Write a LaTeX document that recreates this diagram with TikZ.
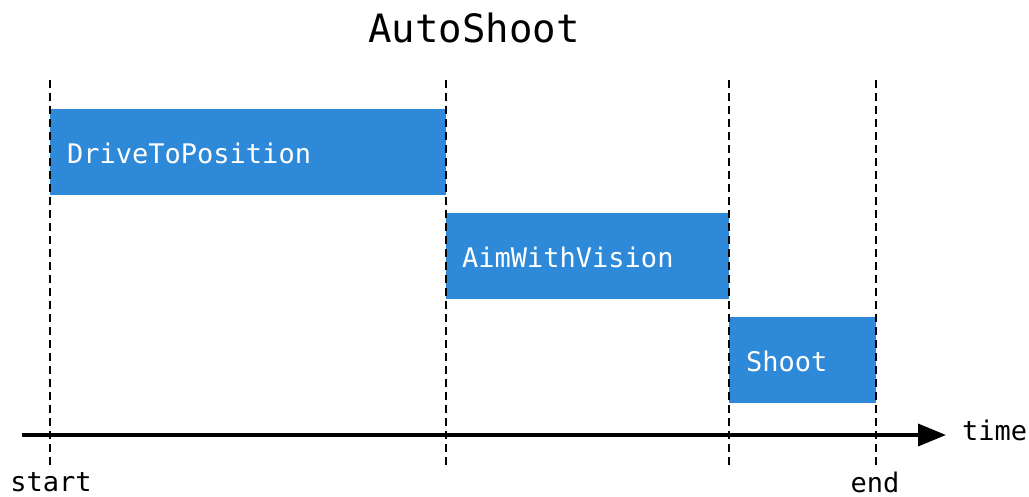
\documentclass[tikz,border=0pt]{standalone}
\usepackage{fontspec}
\setmainfont{DejaVu Sans Mono}
\usetikzlibrary{arrows.meta}
\definecolor{taskblue}{RGB}{46,137,217}
\begin{document}
\begin{tikzpicture}[x=1pt,y=-1pt,
  task/.style={fill=taskblue,draw=none,anchor=north west,minimum height=86pt,
    inner sep=0pt,text=white},
  marker/.style={dash pattern=on 8pt off 5pt,line width=1.8pt},
  lbl/.style={font=\fontsize{27}{31}\selectfont,inner sep=0pt}]
\useasboundingbox (0,0) rectangle (1029,496);
% phases
\node[task,minimum width=396pt] (drive) at (50,109) {};
\node[task,minimum width=283pt] (aim) at (446,213) {};
\node[task,minimum width=147pt] (shoot) at (729,317) {};
\node[lbl,text=white,anchor=west] (driveT) at (67,153) {DriveToPosition};
\node[lbl,text=white,anchor=west] (aimT) at (462,257) {AimWithVision};
\node[lbl,text=white,anchor=west] (shootT) at (746,361) {Shoot};
% boundary markers
\foreach \n/\x in {a/50,b/446,c/729,d/876}{
  \coordinate (top\n) at (\x,80);
  \coordinate (bot\n) at (\x,467);
  \draw[marker] (top\n) -- (bot\n);
}
% time axis
\coordinate (axL) at (22,435);
\coordinate (axR) at (946,435);
\draw[line width=3.6pt,-{Triangle[length=28pt,width=22pt]}] (axL) -- (axR);
\node[lbl,anchor=west] (timeL) at (962,430) {time};
\node[lbl] (startL) at (51,482) {start};
\node[lbl] (endL) at (875,482) {end};
% title
\node[font=\fontsize{39}{45}\selectfont,inner sep=0pt] (title) at (474,28) {AutoShoot};
\end{tikzpicture}
\end{document}
